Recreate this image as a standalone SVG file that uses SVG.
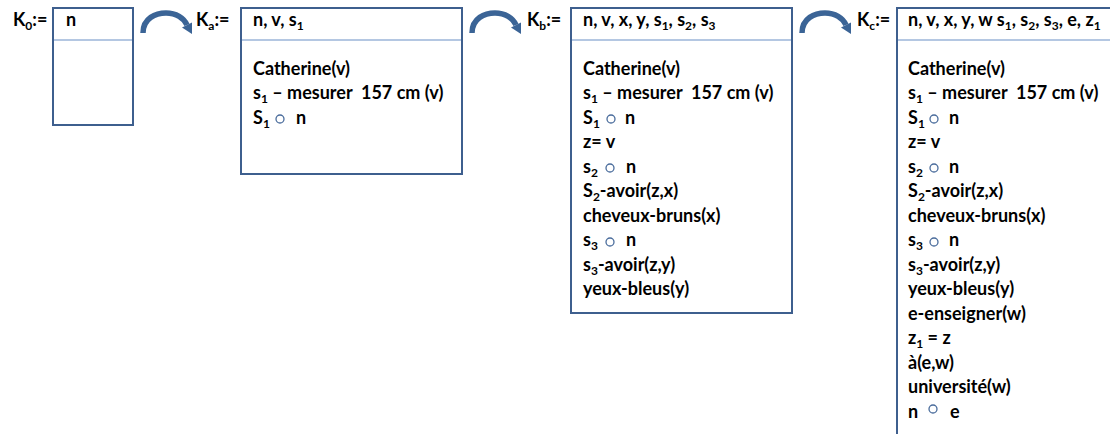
<svg xmlns="http://www.w3.org/2000/svg" width="1110" height="434" viewBox="0 0 1110 434">
<style>
.t{font-family:"Lato","Liberation Sans",Arial,sans-serif;font-weight:bold;font-size:18px;fill:#000}
.sub{font-size:12px}
.box{fill:#fff;stroke:#3e5f8e;stroke-width:2}
.sep{stroke:#6b8fc6;stroke-width:1.2}
.ring{fill:none;stroke:#4a6c9c;stroke-width:1.3}
.arc{fill:none;stroke:#3b6496;stroke-width:5.5}
.head{fill:#3b6496}
</style>
<defs>
<g id="arrow">
<path class="arc" d="M2,21 C2,6 15,1 25,1 C35,1 43,6 46,13"/>
<polygon class="head" points="51,22 41,15.5 51,10.5"/>
</g>
</defs>
<rect width="1110" height="434" fill="#fff"/>
<g id="connectors">
<use href="#arrow" x="141" y="12"/>
<use href="#arrow" x="470" y="12"/>
<use href="#arrow" x="800" y="12"/>
</g>
<g id="K0">
<text class="t" x="13" y="26">K<tspan class="sub" dy="4">0</tspan><tspan dy="-4">:=</tspan></text>
<rect class="box" x="53" y="8" width="80" height="117"/>
<line class="sep" x1="54" y1="40" x2="132" y2="40"/>
<text class="t" x="66" y="26">n</text>
</g>
<g id="Ka">
<text class="t" x="196" y="26">K<tspan class="sub" dy="4">a</tspan><tspan dy="-4">:=</tspan></text>
<rect class="box" x="241" y="8" width="221" height="166"/>
<line class="sep" x1="242" y1="40" x2="461" y2="40"/>
<text class="t" x="253" y="26">n, v, s<tspan class="sub" dy="4">1</tspan></text>
<text class="t" x="253" y="74.5">Catherine(v)</text>
<text class="t" x="253" y="99">s<tspan class="sub" dy="4">1</tspan><tspan dy="-4"> – mesurer&#160;&#160;157 cm (v)</tspan></text>
<text class="t" x="253" y="123.5">S<tspan class="sub" dy="4">1</tspan></text>
<circle class="ring" cx="280" cy="119" r="4"/>
<text class="t" x="296" y="123.5">n</text>
</g>
<g id="Kb">
<text class="t" x="527" y="26">K<tspan class="sub" dy="4">b</tspan><tspan dy="-4">:=</tspan></text>
<rect class="box" x="571" y="8" width="221" height="305"/>
<line class="sep" x1="572" y1="40" x2="791" y2="40"/>
<text class="t" x="583" y="26">n, v, x, y, s<tspan class="sub" dy="4">1</tspan><tspan dy="-4">, s</tspan><tspan class="sub" dy="4">2</tspan><tspan dy="-4">, s</tspan><tspan class="sub" dy="4">3</tspan></text>
<text class="t" x="583" y="74.5">Catherine(v)</text>
<text class="t" x="583" y="99">s<tspan class="sub" dy="4">1</tspan><tspan dy="-4"> – mesurer&#160;&#160;157 cm (v)</tspan></text>
<text class="t" x="583" y="123.5">S<tspan class="sub" dy="4">1</tspan></text>
<circle class="ring" cx="611" cy="119" r="4"/>
<text class="t" x="625" y="123.5">n</text>
<text class="t" x="583" y="148">z= v</text>
<text class="t" x="583" y="172.5">s<tspan class="sub" dy="4">2</tspan></text>
<circle class="ring" cx="610" cy="168" r="4"/>
<text class="t" x="626" y="172.5">n</text>
<text class="t" x="583" y="197">S<tspan class="sub" dy="4">2</tspan><tspan dy="-4">-avoir(z,x)</tspan></text>
<text class="t" x="583" y="221.5">cheveux-bruns(x)</text>
<text class="t" x="583" y="246">s<tspan class="sub" dy="4">3</tspan></text>
<circle class="ring" cx="610" cy="242" r="4"/>
<text class="t" x="626" y="246">n</text>
<text class="t" x="583" y="270.5">s<tspan class="sub" dy="4">3</tspan><tspan dy="-4">-avoir(z,y)</tspan></text>
<text class="t" x="583" y="295">yeux-bleus(y)</text>
</g>
<g id="Kc">
<text class="t" x="857" y="26">K<tspan class="sub" dy="4">c</tspan><tspan dy="-4">:=</tspan></text>
<rect class="box" x="897" y="8" width="230" height="440"/>
<line class="sep" x1="898" y1="40" x2="1110" y2="40"/>
<text class="t" x="908" y="26">n, v, x, y, w s<tspan class="sub" dy="4">1</tspan><tspan dy="-4">, s</tspan><tspan class="sub" dy="4">2</tspan><tspan dy="-4">, s</tspan><tspan class="sub" dy="4">3</tspan><tspan dy="-4">, e, z</tspan><tspan class="sub" dy="4">1</tspan></text>
<text class="t" x="908" y="74.5">Catherine(v)</text>
<text class="t" x="908" y="99">s<tspan class="sub" dy="4">1</tspan><tspan dy="-4"> – mesurer&#160;&#160;157 cm (v)</tspan></text>
<text class="t" x="908" y="123.5">S<tspan class="sub" dy="4">1</tspan></text>
<circle class="ring" cx="934" cy="119" r="4"/>
<text class="t" x="949" y="123.5">n</text>
<text class="t" x="908" y="148">z= v</text>
<text class="t" x="908" y="172.5">s<tspan class="sub" dy="4">2</tspan></text>
<circle class="ring" cx="934" cy="168" r="4"/>
<text class="t" x="949" y="172.5">n</text>
<text class="t" x="908" y="197">S<tspan class="sub" dy="4">2</tspan><tspan dy="-4">-avoir(z,x)</tspan></text>
<text class="t" x="908" y="221.5">cheveux-bruns(x)</text>
<text class="t" x="908" y="246">s<tspan class="sub" dy="4">3</tspan></text>
<circle class="ring" cx="934" cy="242" r="4"/>
<text class="t" x="949" y="246">n</text>
<text class="t" x="908" y="270.5">s<tspan class="sub" dy="4">3</tspan><tspan dy="-4">-avoir(z,y)</tspan></text>
<text class="t" x="908" y="295">yeux-bleus(y)</text>
<text class="t" x="908" y="319.5">e-enseigner(w)</text>
<text class="t" x="908" y="344">z<tspan class="sub" dy="4">1</tspan><tspan dy="-4"> = z</tspan></text>
<text class="t" x="908" y="368.5">à(e,w)</text>
<text class="t" x="908" y="393">université(w)</text>
<text class="t" x="908" y="417.5">n</text>
<circle class="ring" cx="933" cy="409" r="4"/>
<text class="t" x="950" y="417.5">e</text>
</g>
</svg>
